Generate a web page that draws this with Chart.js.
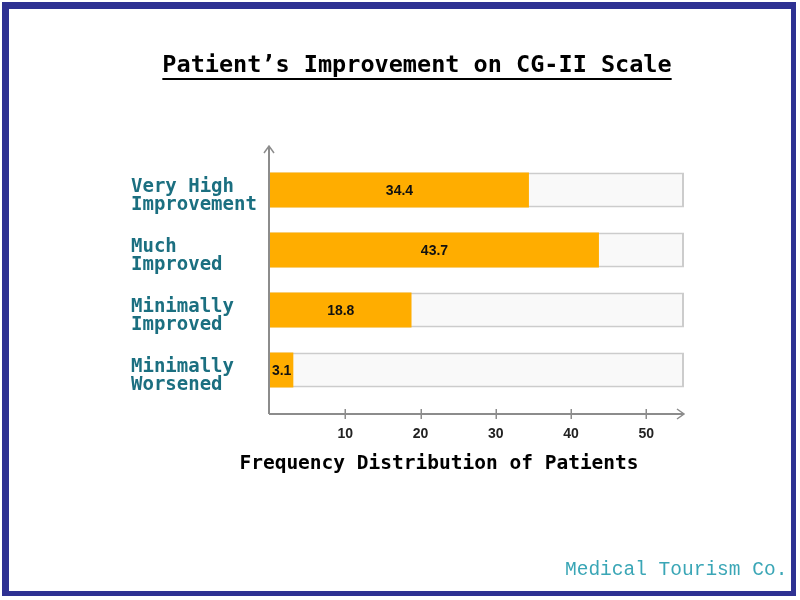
<!DOCTYPE html>
<html><head><meta charset="utf-8">
<script src="https://cdn.jsdelivr.net/npm/chart.js@4.4.0/dist/chart.umd.min.js"></script>
<style>
html,body{margin:0;padding:0;background:#fff;}
#wrap{position:relative;width:800px;height:600px;overflow:hidden;}
#c{position:absolute;left:0;top:0;}
#frame{position:absolute;left:2px;top:2px;width:794px;height:594px;box-sizing:border-box;border-style:solid;border-color:#2e3192;border-width:7px 5px 5px 7px;pointer-events:none;}
</style></head><body>
<div id="wrap"><canvas id="c" width="800" height="600"></canvas><div id="frame"></div></div>
<script>
const categories = [["Very High","Improvement"],["Much","Improved"],["Minimally","Improved"],["Minimally","Worsened"]];
const values = [34.4, 43.7, 18.8, 3.1];
const trackValues = [55, 55, 55, 55];
const xTicks = [10, 20, 30, 40, 50];
const xMax = 55;
const titleText = "Patient\u2019s Improvement on CG-II Scale";
const xTitleText = "Frequency Distribution of Patients";
const watermarkText = "Medical Tourism Co.";

const decor = {
  id: 'decor',
  afterDraw(chart) {
    const ctx = chart.ctx;
    const ca = chart.chartArea;
    const xs = chart.scales.x;
    const axisY = ca.bottom + 14;
    const axisX = ca.left - 1;
    ctx.save();
    // axes
    ctx.strokeStyle = '#8c8c8c';
    ctx.lineWidth = 2;
    ctx.beginPath();
    ctx.moveTo(axisX, axisY);
    ctx.lineTo(axisX, ca.top - 14);
    ctx.moveTo(axisX, axisY);
    ctx.lineTo(ca.right, axisY);
    ctx.stroke();
    ctx.lineWidth = 1.5;
    ctx.beginPath();
    ctx.moveTo(axisX - 5, ca.top - 7);
    ctx.lineTo(axisX, ca.top - 14);
    ctx.lineTo(axisX + 5, ca.top - 7);
    ctx.moveTo(ca.right - 7, axisY - 5);
    ctx.lineTo(ca.right, axisY);
    ctx.lineTo(ca.right - 7, axisY + 5);
    ctx.stroke();
    // tick marks
    ctx.lineWidth = 1.5;
    ctx.beginPath();
    xTicks.forEach(v => {
      const px = Math.round(xs.getPixelForValue(v)) + 0.25;
      ctx.moveTo(px, axisY - 5);
      ctx.lineTo(px, axisY + 5);
    });
    ctx.stroke();
    // data labels
    const meta = chart.getDatasetMeta(0);
    ctx.fillStyle = '#111';
    ctx.font = 'bold 14px "Liberation Sans", Arial, sans-serif';
    ctx.textAlign = 'center';
    ctx.textBaseline = 'middle';
    meta.data.forEach((el, i) => {
      ctx.fillText(values[i].toFixed(1), (el.x + el.base) / 2, el.y + 1.5);
    });
    // title
    ctx.fillStyle = '#000';
    ctx.font = 'bold 23.5px "DejaVu Sans Mono", monospace';
    ctx.textAlign = 'center';
    ctx.textBaseline = 'alphabetic';
    ctx.fillText(titleText, 417, 72);
    const tw = ctx.measureText(titleText).width;
    ctx.strokeStyle = '#000';
    ctx.lineWidth = 2;
    ctx.beginPath();
    ctx.moveTo(417 - tw / 2, 79);
    ctx.lineTo(417 + tw / 2, 79);
    ctx.stroke();
    // x axis title
    ctx.font = 'bold 19.5px "DejaVu Sans Mono", monospace';
    ctx.textBaseline = 'middle';
    ctx.fillText(xTitleText, 439, 464);
    // watermark
    ctx.fillStyle = '#3aa6b6';
    ctx.font = '19.5px "Liberation Mono", monospace';
    ctx.textAlign = 'left';
    ctx.fillText(watermarkText, 565, 570);
    ctx.restore();
  }
};

new Chart(document.getElementById('c'), {
  type: 'bar',
  data: {
    labels: categories,
    datasets: [
      { data: values, backgroundColor: '#ffad00', borderWidth: 0, grouped: false,
        barPercentage: 0.583, categoryPercentage: 1 },
      { data: trackValues, backgroundColor: '#f9f9f9', borderColor: '#cccccc', borderWidth: 2,
        borderSkipped: false, grouped: false, barPercentage: 0.583, categoryPercentage: 1 }
    ]
  },
  options: {
    indexAxis: 'y',
    responsive: false,
    animation: false,
    devicePixelRatio: 1,
    layout: { padding: { left: 131, right: 116, top: 160, bottom: 0 } },
    plugins: { legend: { display: false }, tooltip: { enabled: false }, title: { display: false } },
    scales: {
      y: {
        type: 'category',
        position: 'left',
        grid: { display: false, drawTicks: false },
        border: { display: false },
        ticks: {
          crossAlign: 'far',
          padding: 0,
          labelOffset: 6,
          color: '#1b6f80',
          font: { family: '"DejaVu Sans Mono", monospace', weight: 'bold', size: 19, lineHeight: 18 / 19 }
        },
        afterFit: s => { s.width = 139; }
      },
      x: {
        type: 'linear',
        min: 0,
        max: xMax,
        position: 'bottom',
        grid: { display: false, drawTicks: false },
        border: { display: false },
        afterBuildTicks: s => { s.ticks = xTicks.map(v => ({ value: v })); },
        ticks: {
          padding: 26,
          color: '#222',
          font: { family: '"Liberation Sans", Arial, sans-serif', weight: 'bold', size: 14 }
        },
        afterFit: s => { s.height = 200; }
      }
    }
  },
  plugins: [decor]
});
</script>
</body></html>
